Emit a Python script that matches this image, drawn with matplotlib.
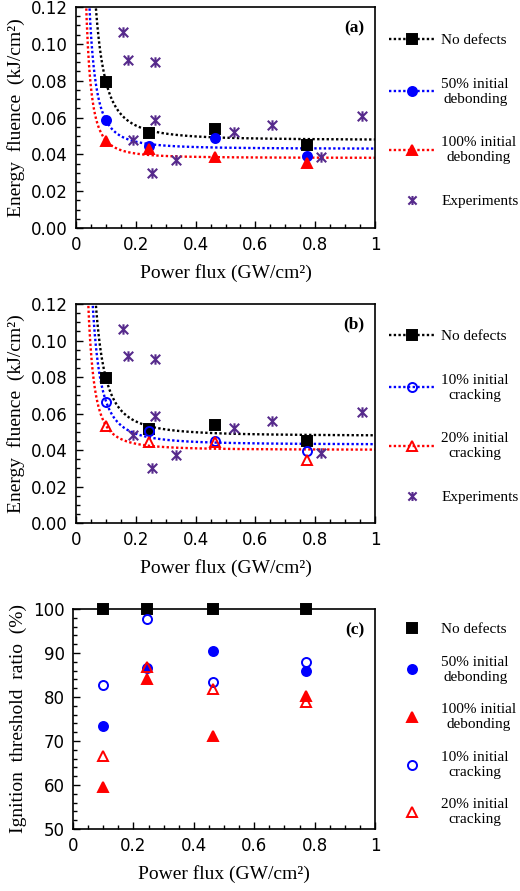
import numpy as np
import matplotlib
matplotlib.use('Agg')
import matplotlib.pyplot as plt
from matplotlib.path import Path
from matplotlib.lines import Line2D
from matplotlib.ticker import MultipleLocator

plt.rcParams['font.family'] = 'DejaVu Sans'
SERIF = 'Liberation Serif'

# simulation power flux (GW/cm2)
power = [0.10, 0.244, 0.465, 0.771]

# energy fluence (kJ/cm2)
fluence_none = [0.0795, 0.0516, 0.0539, 0.0450]
fluence_deb50 = [0.0585, 0.0448, 0.0489, 0.0389]
fluence_deb100 = [0.0471, 0.0427, 0.0386, 0.0355]
fluence_crack10 = [0.0662, 0.0505, 0.0450, 0.0395]
fluence_crack20 = [0.0530, 0.0445, 0.0445, 0.0348]

# experiments
exp_power = [0.156, 0.173, 0.265, 0.263, 0.192, 0.255, 0.335, 0.53, 0.655, 0.82, 0.955]
exp_fluence = [0.1064, 0.0914, 0.090, 0.0584, 0.048, 0.030, 0.037, 0.052, 0.056, 0.0386, 0.061]

# ignition threshold ratio (%)
ratio_none = [100, 100, 100, 100]
ratio_deb50 = [73.5, 86.6, 90.5, 85.9]
ratio_deb100 = [59.6, 84.2, 71.1, 80.2]
ratio_crack10 = [82.8, 97.7, 83.5, 87.9]
ratio_crack20 = [66.7, 86.8, 81.8, 78.9]

BLACK, BLUE, RED, PURPLE = '#000000', '#0000ff', '#ff0000', '#562a8c'
MS = 6.5
DOT = (0, (1, 1))

star = Path([(-1, -1), (1, 1), (-1, 1), (1, -1), (0, -1.1), (0, 1.1)],
            [Path.MOVETO, Path.LINETO] * 3)


def trend(x, y, n=2.0):
    # least squares y = a + b / x^n
    u = np.asarray(x) ** -n
    b, a = np.polyfit(u, y, 1)
    xs = np.linspace(0.02, 1.0, 500)
    return xs, a + b * xs ** -n


def style_axes(ax, label):
    ax.set_xlim(0, 1)
    ax.xaxis.set_minor_locator(MultipleLocator(0.05))
    ax.set_xticks([0, 0.2, 0.4, 0.6, 0.8, 1.0])
    ax.set_xticklabels(['0', '0.2', '0.4', '0.6', '0.8', '1'])
    ax.tick_params(which='both', direction='in', top=False, right=False,
                   labelsize=12, pad=6)
    ax.tick_params(which='major', length=5, width=1)
    ax.tick_params(which='minor', length=3, width=1)
    for s in ax.spines.values():
        s.set_linewidth(1.2)
    ax.set_xlabel('Power flux (GW/cm²)', family=SERIF, fontsize=14, labelpad=7)
    ax.text(0.965, 0.905, label, transform=ax.transAxes, ha='right', va='center',
            family=SERIF, fontweight='bold', fontsize=12.5)


def fluence_panel(ax, series, label):
    hs = []
    for y, color, marker, mfc, name in series:
        xs, ys = trend(power, y)
        ax.plot(xs, ys, color=color, ls=DOT, lw=1.7)
        ax.plot(power, y, ls='none', marker=marker, ms=MS, color=color,
                mfc=mfc, mec=color, mew=1.4, zorder=3)
        hs.append(Line2D([], [], color=color, ls=DOT, lw=1.7,
                         marker=marker, ms=MS, mfc=mfc, mec=color, mew=1.4,
                         label=name))
    ax.plot(exp_power, exp_fluence, ls='none', marker=star, ms=7.5,
            mfc='none', mec=PURPLE, mew=1.5, zorder=3)
    hs.append(Line2D([], [], ls='none', marker=star, ms=6.5, mfc='none',
                     mec=PURPLE, mew=1.5, label='Experiments'))
    ax.set_ylim(0, 0.12)
    ax.yaxis.set_major_locator(MultipleLocator(0.02))
    ax.yaxis.set_minor_locator(MultipleLocator(0.005))
    ax.yaxis.set_major_formatter(plt.FormatStrFormatter('%.2f'))
    ax.set_ylabel('Energy  fluence  (kJ/cm²)', family=SERIF, fontsize=14, labelpad=4)
    style_axes(ax, label)
    leg = ax.legend(handles=hs, loc='center left', bbox_to_anchor=(1.0, 0.485),
                    frameon=False, prop={'family': SERIF, 'size': 11},
                    handlelength=3.1, handletextpad=0.35, labelspacing=2.0,
                    borderaxespad=0.5)
    for t in leg.get_texts():
        t.set_multialignment('center')


fig = plt.figure(figsize=(5.2, 8.91), dpi=100)
ax_a = fig.add_axes([0.1462, 0.7441, 0.575, 0.2480])
ax_b = fig.add_axes([0.1462, 0.4130, 0.575, 0.2458])
ax_c = fig.add_axes([0.1404, 0.0696, 0.5808, 0.2469])

fluence_panel(ax_a, [
    (fluence_none, BLACK, 's', BLACK, 'No defects'),
    (fluence_deb50, BLUE, 'o', BLUE, '50% initial\ndebonding'),
    (fluence_deb100, RED, '^', RED, '100% initial\ndebonding'),
], '(a)')

fluence_panel(ax_b, [
    (fluence_none, BLACK, 's', BLACK, 'No defects'),
    (fluence_crack10, BLUE, 'o', 'none', '10% initial\ncracking'),
    (fluence_crack20, RED, '^', 'none', '20% initial\ncracking'),
], '(b)')

# panel (c)
ratio_series = [
    (ratio_none, BLACK, 's', BLACK, 'No defects'),
    (ratio_deb50, BLUE, 'o', BLUE, '50% initial\ndebonding'),
    (ratio_deb100, RED, '^', RED, '100% initial\ndebonding'),
    (ratio_crack10, BLUE, 'o', 'none', '10% initial\ncracking'),
    (ratio_crack20, RED, '^', 'none', '20% initial\ncracking'),
]
for y, color, marker, mfc, name in ratio_series:
    ax_c.plot(power, y, ls='none', marker=marker, ms=MS, color=color,
              mfc=mfc, mec=color, mew=1.4, clip_on=False, zorder=3, label=name)
ax_c.set_ylim(50, 100)
ax_c.yaxis.set_major_locator(MultipleLocator(10))
ax_c.yaxis.set_minor_locator(MultipleLocator(2))
ax_c.set_ylabel('Ignition  threshold  ratio  (%)', family=SERIF, fontsize=14, labelpad=4)
style_axes(ax_c, '(c)')
leg = ax_c.legend(loc='center left', bbox_to_anchor=(1.0, 0.475), frameon=False,
                  prop={'family': SERIF, 'size': 11}, handlelength=3.1,
                  handletextpad=0.35, labelspacing=1.28, borderaxespad=0.5)
for t in leg.get_texts():
    t.set_multialignment('center')

fig.savefig('out.png', dpi=100)
